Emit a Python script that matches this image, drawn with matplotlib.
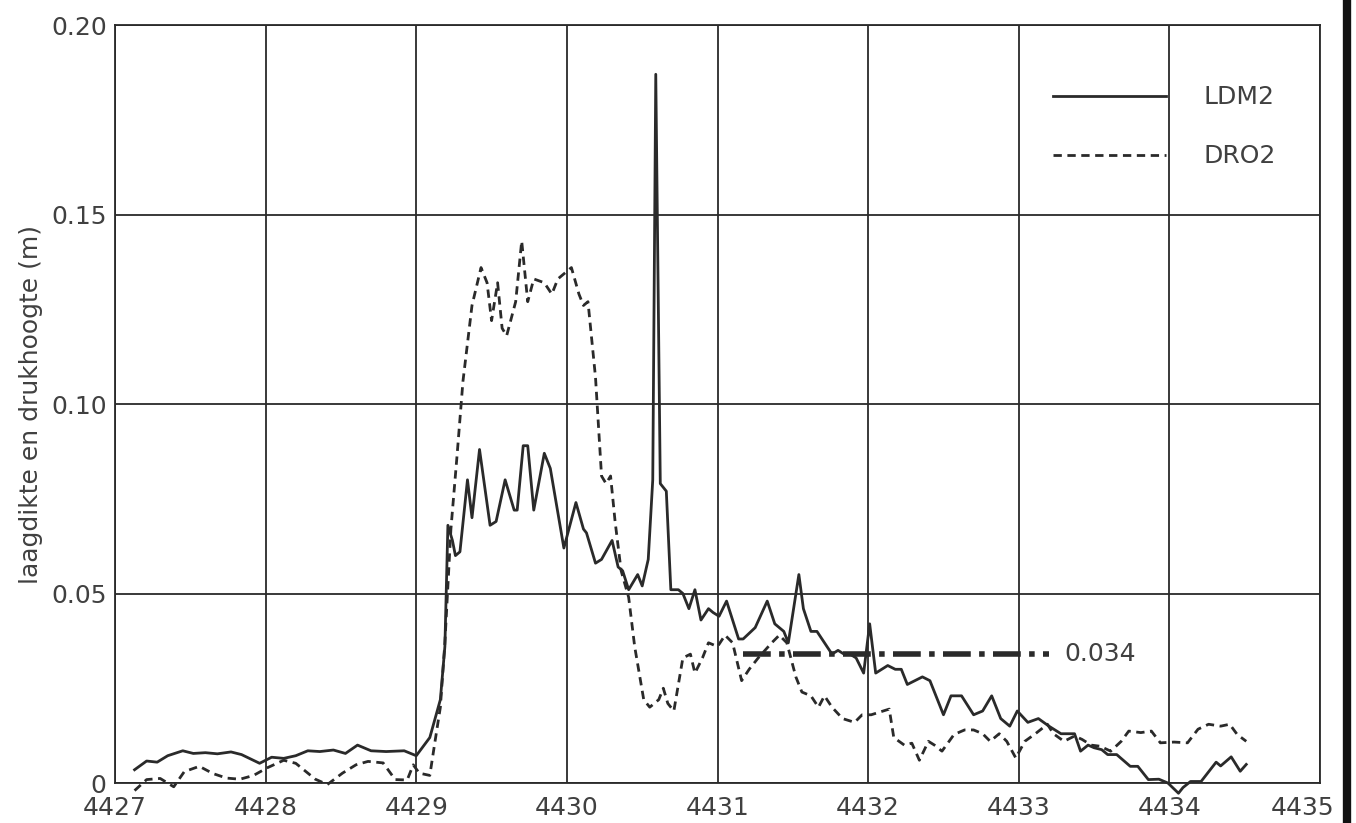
import matplotlib
matplotlib.use("Agg")
from matplotlib import pyplot as plt
from matplotlib.lines import Line2D
from matplotlib.transforms import ScaledTranslation

# LDM2 (solid)
ldm2_x = [4427.13, 4427.21, 4427.28, 4427.35, 4427.45, 4427.52, 4427.60, 4427.68, 4427.77, 4427.84,
          4427.96, 4428.04, 4428.12, 4428.20, 4428.28, 4428.36, 4428.45, 4428.53, 4428.61, 4428.70,
          4428.80, 4428.92, 4429.00, 4429.09, 4429.16, 4429.19, 4429.21, 4429.24, 4429.26, 4429.29,
          4429.34, 4429.37, 4429.42, 4429.49, 4429.53, 4429.59, 4429.65, 4429.67, 4429.71, 4429.74,
          4429.78, 4429.85, 4429.89, 4429.98, 4430.06, 4430.11, 4430.13, 4430.19, 4430.23, 4430.30,
          4430.34, 4430.37, 4430.41, 4430.47, 4430.50, 4430.54, 4430.57, 4430.59, 4430.62, 4430.66,
          4430.69, 4430.74, 4430.77, 4430.81, 4430.85, 4430.89, 4430.94, 4430.97, 4431.01, 4431.06,
          4431.10, 4431.14, 4431.17, 4431.25, 4431.33, 4431.38, 4431.44, 4431.47, 4431.54, 4431.57,
          4431.62, 4431.66, 4431.71, 4431.76, 4431.80, 4431.84, 4431.88, 4431.92, 4431.97, 4432.01,
          4432.05, 4432.13, 4432.18, 4432.22, 4432.26, 4432.36, 4432.41, 4432.50, 4432.55, 4432.62,
          4432.70, 4432.76, 4432.82, 4432.88, 4432.94, 4432.99, 4433.06, 4433.13, 4433.20, 4433.28,
          4433.37, 4433.41, 4433.46, 4433.50, 4433.55, 4433.59, 4433.65, 4433.74, 4433.79, 4433.86,
          4433.93, 4433.99, 4434.06, 4434.09, 4434.14, 4434.21, 4434.31, 4434.34, 4434.41, 4434.47,
          4434.51]
ldm2_y = [0.0035, 0.0058, 0.0055, 0.0072, 0.0085, 0.0078, 0.0080, 0.0077, 0.0082, 0.0075,
          0.0052, 0.0068, 0.0065, 0.0072, 0.0085, 0.0083, 0.0087, 0.0078, 0.0100, 0.0085,
          0.0083, 0.0085, 0.0072, 0.012, 0.022, 0.036, 0.068, 0.064, 0.060, 0.061,
          0.080, 0.070, 0.088, 0.068, 0.069, 0.080, 0.072, 0.072, 0.089, 0.089,
          0.072, 0.087, 0.083, 0.062, 0.074, 0.067, 0.066, 0.058, 0.059, 0.064,
          0.057, 0.056, 0.051, 0.055, 0.052, 0.059, 0.080, 0.187, 0.079, 0.077,
          0.051, 0.051, 0.050, 0.046, 0.051, 0.043, 0.046, 0.045, 0.044, 0.048,
          0.043, 0.038, 0.038, 0.041, 0.048, 0.042, 0.040, 0.037, 0.055, 0.046,
          0.040, 0.040, 0.037, 0.034, 0.035, 0.034, 0.034, 0.033, 0.029, 0.042,
          0.029, 0.031, 0.030, 0.030, 0.026, 0.028, 0.027, 0.018, 0.023, 0.023,
          0.018, 0.019, 0.023, 0.017, 0.015, 0.019, 0.016, 0.017, 0.015, 0.013,
          0.013, 0.0084, 0.010, 0.0093, 0.0088, 0.0075, 0.0075, 0.0044, 0.0044, 0.0009,
          0.0010, 0.0, -0.0027, -0.0012, 0.0004, 0.0004, 0.0055, 0.0045, 0.0069, 0.0031,
          0.0049]

# DRO2 (dashed)
dro2_x = [4427.13, 4427.21, 4427.30, 4427.39, 4427.46, 4427.56, 4427.65, 4427.74, 4427.83, 4427.92,
          4428.01, 4428.12, 4428.20, 4428.33, 4428.41, 4428.51, 4428.60, 4428.68, 4428.78, 4428.86,
          4428.94, 4428.98, 4429.02, 4429.09, 4429.12, 4429.16, 4429.19, 4429.23, 4429.27, 4429.31,
          4429.37, 4429.43, 4429.47, 4429.50, 4429.54, 4429.57, 4429.60, 4429.66, 4429.70, 4429.74,
          4429.78, 4429.85, 4429.90, 4429.94, 4430.03, 4430.08, 4430.11, 4430.14, 4430.19, 4430.23,
          4430.26, 4430.29, 4430.32, 4430.36, 4430.41, 4430.45, 4430.51, 4430.55, 4430.61, 4430.64,
          4430.67, 4430.71, 4430.77, 4430.82, 4430.85, 4430.90, 4430.94, 4431.00, 4431.05, 4431.10,
          4431.16, 4431.21, 4431.27, 4431.36, 4431.41, 4431.46, 4431.52, 4431.56, 4431.62, 4431.67,
          4431.71, 4431.76, 4431.83, 4431.91, 4431.96, 4432.02, 4432.10, 4432.14, 4432.17, 4432.24,
          4432.29, 4432.34, 4432.40, 4432.44, 4432.49, 4432.57, 4432.64, 4432.70, 4432.76, 4432.81,
          4432.87, 4432.92, 4432.98, 4433.04, 4433.11, 4433.19, 4433.23, 4433.30, 4433.37, 4433.42,
          4433.48, 4433.54, 4433.61, 4433.68, 4433.73, 4433.81, 4433.88, 4433.94, 4434.03, 4434.12,
          4434.19, 4434.26, 4434.34, 4434.40, 4434.45, 4434.51]
dro2_y = [-0.002, 0.0009, 0.0012, -0.001, 0.003, 0.0044, 0.0025, 0.0013, 0.0010, 0.002,
          0.004, 0.006, 0.0052, 0.001, -0.0004, 0.0026, 0.0048, 0.0057, 0.0053, 0.0009,
          0.0008, 0.0048, 0.0026, 0.002, 0.0098, 0.020, 0.037, 0.067, 0.086, 0.106,
          0.126, 0.136, 0.132, 0.122, 0.132, 0.120, 0.118, 0.127, 0.143, 0.127,
          0.133, 0.132, 0.129, 0.133, 0.136, 0.129, 0.126, 0.127, 0.107, 0.081,
          0.079, 0.081, 0.069, 0.056, 0.049, 0.036, 0.022, 0.020, 0.022, 0.025,
          0.021, 0.019, 0.033, 0.034, 0.029, 0.033, 0.037, 0.036, 0.039, 0.037,
          0.027, 0.030, 0.033, 0.037, 0.039, 0.037, 0.028, 0.024, 0.023, 0.020,
          0.023, 0.020, 0.017, 0.016, 0.018, 0.018, 0.019, 0.0195, 0.012, 0.010,
          0.0105, 0.006, 0.011, 0.010, 0.0084, 0.0128, 0.014, 0.014, 0.013, 0.011,
          0.013, 0.011, 0.0066, 0.011, 0.013, 0.0155, 0.013, 0.011, 0.0124, 0.0115,
          0.010, 0.0097, 0.0084, 0.011, 0.0137, 0.0133, 0.0137, 0.0106, 0.0108, 0.0106,
          0.0142, 0.0155, 0.015, 0.0155, 0.0128, 0.011]

level = 0.034
level_x = [4431.17, 4433.2]

x_ticks = [4427, 4428, 4429, 4430, 4431, 4432, 4433, 4434, 4435]
y_ticks = [0, 0.05, 0.10, 0.15, 0.20]
y_labels = ["0", "0.05", "0.10", "0.15", "0.20"]

ink = "#2a2a2a"
txt = "#404040"

fig = plt.figure(figsize=(13.56, 8.23), dpi=100)
ax = fig.add_axes([0.0848, 0.0486, 0.8887, 0.921])

ax.plot(ldm2_x, ldm2_y, color=ink, lw=2.0, clip_on=False)
ax.plot(dro2_x, dro2_y, color=ink, lw=2.0, linestyle=(0, (3, 2)), clip_on=False)
ax.plot(level_x, [level, level], color=ink, lw=4, linestyle=(0, (5, 1.5, 1, 1.5)))
ax.text(4433.3, level, "0.034", fontsize=18, color=txt, va="center", ha="left")

ax.set_xlim(4427, 4435)
ax.set_ylim(0, 0.20)
ax.set_xticks(x_ticks)
ax.set_xticklabels([str(t) for t in x_ticks])
ax.set_yticks(y_ticks)
ax.set_yticklabels(y_labels)
ax.tick_params(length=0, labelsize=18, labelcolor=txt)
ax.tick_params(axis="x", pad=9)
ax.tick_params(axis="y", pad=6)
ax.grid(True, color=ink, lw=1.3)
for s in ax.spines.values():
    s.set_color(ink)
    s.set_linewidth(1.3)
ax.set_ylabel("laagdikte en drukhoogte (m)", fontsize=18, color=txt, labelpad=6)

# last x label sits a little inside the page
last = ax.get_xticklabels()[-1]
last.set_transform(last.get_transform() + ScaledTranslation(-18 / 100, 0, fig.dpi_scale_trans))

handles = [Line2D([], [], color=ink, lw=2.0),
           Line2D([], [], color=ink, lw=2.0, linestyle=(0, (3, 2)))]
ax.legend(handles, ["LDM2", "DRO2"], loc="upper right", bbox_to_anchor=(0.982, 0.95),
          frameon=False, fontsize=18, labelcolor=txt, handlelength=4.5,
          handletextpad=1.5, labelspacing=1.4)

# dark scan border on the right
fig.add_artist(Line2D([0.9935, 0.9935], [0.0, 1.0], color="#111111", lw=6))

fig.savefig("out.png", dpi=100)
